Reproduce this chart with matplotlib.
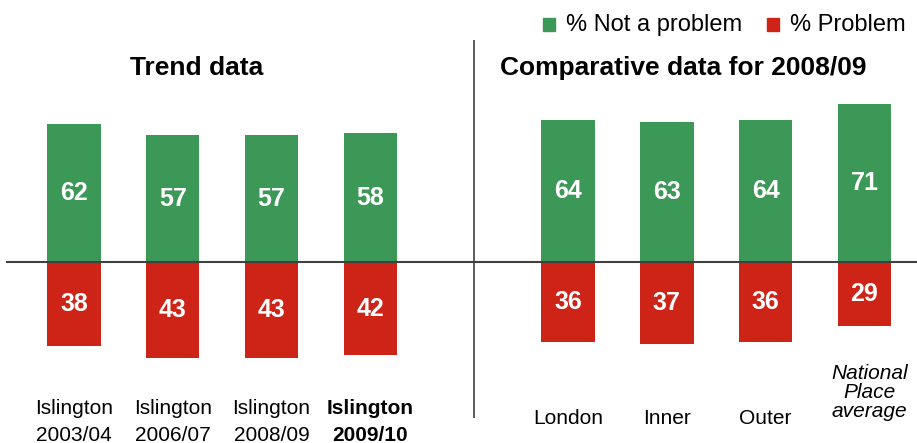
import matplotlib
matplotlib.use("Agg")
import matplotlib.pyplot as plt
from matplotlib.patches import Rectangle

plt.rcParams['font.family'] = ['Liberation Sans', 'DejaVu Sans']

# Trend data (Islington) and comparative data for 2008/09
trend_labels = [("Islington", "2003/04"), ("Islington", "2006/07"),
                ("Islington", "2008/09"), ("Islington", "2009/10")]
trend_not_problem = [62, 57, 57, 58]
trend_problem = [38, 43, 43, 42]

comp_labels = ["London", "Inner", "Outer", "National\nPlace\naverage"]
comp_not_problem = [64, 63, 64, 71]
comp_problem = [36, 37, 36, 29]

legend_labels = ["% Not a problem", "% Problem"]

GREEN = "#3b9857"
RED = "#cd2417"

W, H = 917, 443
fig = plt.figure(figsize=(W / 100, H / 100), dpi=100)
ax = fig.add_axes([0, 0, 1, 1])
ax.set_xlim(-0.749, 8.532)
ax.set_ylim(-81.5, 118.0)
ax.axis("off")

def fx(px):
    return px / W

def fy(py):
    return 1 - py / H

trend_x = [0, 1, 2, 3]
comp_x = [5, 6, 7, 8]
xs = trend_x + comp_x
not_prob = trend_not_problem + comp_not_problem
prob = trend_problem + comp_problem

bw = 0.54
ax.bar(xs, not_prob, width=bw, color=GREEN, zorder=2)
ax.bar(xs, [-p for p in prob], width=bw, color=RED, zorder=2)

for x, g, r in zip(xs, not_prob, prob):
    ax.text(x, g / 2, f"{g}", ha="center", va="center", color="white",
            fontsize=18, fontweight="bold", zorder=3)
    ax.text(x, -r / 2, f"{r}", ha="center", va="center", color="white",
            fontsize=18, fontweight="bold", zorder=3)

# baseline and divider between the two panels
ax.axhline(0, xmin=7 / W, xmax=1, color="#404040", lw=1.5, zorder=4)
ax.vlines(4.05, -70.3, 100, color="#404040", lw=1.2)

# category labels
for i, (x, (l1, l2)) in enumerate(zip(trend_x, trend_labels)):
    weight = "bold" if i == len(trend_x) - 1 else "normal"
    ax.text(x, (262 - 408) / 2.22, l1, ha="center", va="center",
            fontsize=15, fontweight=weight)
    ax.text(x, (262 - 435) / 2.22, l2, ha="center", va="center",
            fontsize=15, fontweight=weight)

for i, (x, lab) in enumerate(zip(comp_x, comp_labels)):
    if i == len(comp_x) - 1:
        ax.text(x + 0.05, (262 - 421) / 2.22, lab, ha="center", va="bottom",
                fontsize=15, fontstyle="italic", linespacing=1.0)
    else:
        ax.text(x, (262 - 418) / 2.22, lab, ha="center", va="center",
                fontsize=15)

# panel headings
fig.text(fx(197), fy(68), "Trend data", ha="center", va="center",
         fontsize=19, fontweight="bold")
fig.text(fx(683), fy(68), "Comparative data for 2008/09", ha="center",
         va="center", fontsize=19, fontweight="bold")

# legend: coloured squares followed by labels
legend_items = [(543, GREEN, legend_labels[0]), (767, RED, legend_labels[1])]
for px, col, lab in legend_items:
    fig.add_artist(Rectangle((fx(px), fy(31)), 12 / W, 13 / H,
                             transform=fig.transFigure, color=col))
    fig.text(fx(px + 23), fy(25), lab, ha="left", va="center", fontsize=17)

fig.savefig("out.png", dpi=100)
